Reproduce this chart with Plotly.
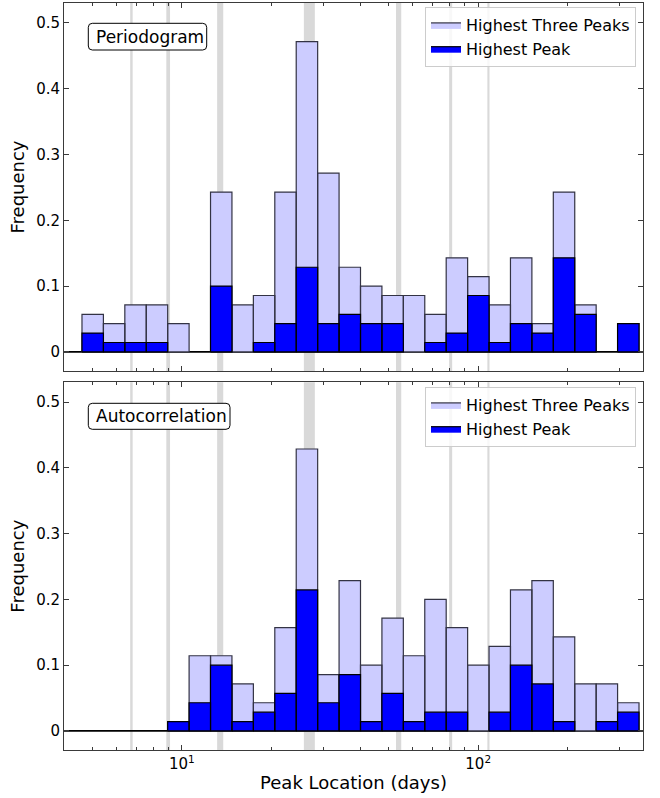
import numpy as np
import plotly.graph_objects as go

# ---------------- data ----------------
N_STARS = 70
BIN_LO, BIN_HI, N_BINS = 4.6, 349.0, 26
# counts per log bin (fraction = count / N_STARS)
period_three = [4, 3, 5, 5, 3, 0, 17, 5, 6, 17, 33, 19, 9, 7, 6, 6, 4, 10, 8, 5, 10, 3, 17, 5, 0, 3]
period_top   = [2, 1, 1, 1, 0, 0, 7, 0, 1, 3, 9, 3, 4, 3, 3, 0, 1, 2, 6, 1, 3, 2, 10, 4, 0, 3]
acf_three    = [0, 0, 0, 0, 1, 8, 8, 5, 3, 11, 30, 6, 16, 7, 12, 8, 14, 11, 7, 9, 15, 16, 10, 5, 5, 3]
acf_top      = [0, 0, 0, 0, 1, 3, 7, 1, 2, 4, 15, 3, 6, 1, 4, 1, 2, 2, 0, 2, 7, 5, 1, 0, 1, 2]
# shaded period bands (days): solar-rotation harmonics
band_lo = [6.69, 8.86, 13.15, 25.8, 52.8, 79.8, 107.4]
band_hi = [6.82, 9.12, 13.79, 28.1, 55.0, 81.7, 109.2]
panel_names = ["Periodogram", "Autocorrelation"]
legend_names = ["Highest Three Peaks", "Highest Peak"]
x_major = [10, 100]
x_major_text = ["10<sup>1</sup>", "10<sup>2</sup>"]
x_minor = [4, 5, 6, 7, 8, 9, 20, 30, 40, 50, 60, 70, 80, 90, 200, 300]
y_ticks = [0, 0.1, 0.2, 0.3, 0.4, 0.5]
y_text = ["0", "0.1", "0.2", "0.3", "0.4", "0.5"]

edges = np.logspace(np.log10(BIN_LO), np.log10(BIN_HI), N_BINS + 1)

# ---------------- layout geometry ----------------
W, H = 660, 798
ML, MR, MT, MB = 64, 17, 3, 48
PW, PH = W - ML - MR, H - MT - MB
def px_x(p):
    return (p - ML) / PW
def px_y(p):
    return (H - MB - p) / PH

top_dom = [px_y(371), 1.0]
bot_dom = [0.0, px_y(382.3)]

FONT = "DejaVu Sans"
AXC = "#3a3a3a"
LIGHT = "#ccccff"
BLUE = "#0000ff"

def poly(counts):
    xs, ys = [], []
    for i, c in enumerate(counts):
        if c <= 0:
            continue
        h = c / N_STARS
        l, r = edges[i], edges[i + 1]
        xs += [l, l, r, r, l, None]
        ys += [0, h, h, 0, 0, None]
    return xs, ys

fig = go.Figure()
series = [(period_three, period_top, "x", "y", "legend"),
          (acf_three, acf_top, "x2", "y2", "legend2")]
for three, top, xa, ya, lg in series:
    x1, y1 = poly(three)
    fig.add_trace(go.Scatter(x=x1, y=y1, xaxis=xa, yaxis=ya, mode="lines",
                             fill="toself", fillcolor=LIGHT,
                             line=dict(color="#333344", width=1.2),
                             name=legend_names[0], legend=lg, legendgroup=lg + "a",
                             hoverinfo="skip"))
    x2, y2 = poly(top)
    fig.add_trace(go.Scatter(x=x2, y=y2, xaxis=xa, yaxis=ya, mode="lines",
                             fill="toself", fillcolor=BLUE,
                             line=dict(color="#000000", width=1.2),
                             name=legend_names[1], legend=lg, legendgroup=lg + "b",
                             hoverinfo="skip"))

shapes = []
for xa, ya in [("x", "y"), ("x2", "y2")]:
    for lo, hi in zip(band_lo, band_hi):
        shapes.append(dict(type="rect", xref=xa, yref=ya + " domain", x0=lo, x1=hi,
                           y0=0, y1=1, fillcolor="#d9d9d9", line=dict(width=0),
                           layer="below"))
    shapes.append(dict(type="line", xref=xa + " domain", yref=ya, x0=0, x1=1, y0=0, y1=0,
                       line=dict(color="black", width=1.8), layer="below"))

# rounded label boxes
def rounded_box(x0p, y0p, x1p, y1p, r=4):
    X0, X1 = px_x(x0p), px_x(x1p)
    Y0, Y1 = px_y(y0p), px_y(y1p)  # Y0 top, Y1 bottom
    rx, ry = r / PW, r / PH
    path = (f"M{X0+rx},{Y0} L{X1-rx},{Y0} Q{X1},{Y0} {X1},{Y0-ry} "
            f"L{X1},{Y1+ry} Q{X1},{Y1} {X1-rx},{Y1} L{X0+rx},{Y1} "
            f"Q{X0},{Y1} {X0},{Y1+ry} L{X0},{Y0-ry} Q{X0},{Y0} {X0+rx},{Y0} Z")
    return dict(type="path", xref="paper", yref="paper", path=path,
                fillcolor="white", line=dict(color="black", width=1), layer="above")

shapes.append(rounded_box(88.3, 23.3, 206.7, 50.0))
shapes.append(rounded_box(88.3, 403.3, 230.0, 429.3))

annotations = [
    dict(text=panel_names[0], x=px_x(94), y=px_y(36.7), xref="paper", yref="paper",
         xanchor="left", yanchor="middle", showarrow=False,
         font=dict(family=FONT, size=17, color="black")),
    dict(text=panel_names[1], x=px_x(94), y=px_y(416.3), xref="paper", yref="paper",
         xanchor="left", yanchor="middle", showarrow=False,
         font=dict(family=FONT, size=17, color="black")),
]

xcommon = dict(type="log", range=[np.log10(4), np.log10(360)], showgrid=False,
               zeroline=False, showline=True, linecolor=AXC, linewidth=1,
               mirror="allticks", ticks="inside", ticklen=5, tickcolor=AXC,
               tickvals=x_major, ticktext=x_major_text, automargin=False,
               minor=dict(tickvals=x_minor, ticks="inside", ticklen=3, tickcolor=AXC),
               tickfont=dict(family=FONT, size=15, color="black"))
ycommon = dict(range=[-0.029, 0.53], showgrid=False, zeroline=False, showline=True,
               linecolor=AXC, linewidth=1, mirror="allticks", ticks="inside",
               ticklen=5, tickcolor=AXC, tickvals=y_ticks, ticktext=y_text,
               automargin=False,
               tickfont=dict(family=FONT, size=15, color="black"),
               title=dict(text="Frequency", font=dict(family=FONT, size=18, color="black"),
                          standoff=6))

legcommon = dict(bgcolor="rgba(255,255,255,0.8)", bordercolor="#cccccc", borderwidth=1,
                 font=dict(family=FONT, size=16, color="black"),
                 xanchor="right", yanchor="top", x=px_x(636), tracegroupgap=0,
                 traceorder="grouped")

fig.update_layout(
    width=W, height=H, margin=dict(l=ML, r=MR, t=MT, b=MB, autoexpand=False),
    paper_bgcolor="white", plot_bgcolor="white", showlegend=True,
    xaxis=dict(xcommon, domain=[0, 1], anchor="y", showticklabels=False, matches="x2"),
    yaxis=dict(ycommon, domain=top_dom, anchor="x"),
    xaxis2=dict(xcommon, domain=[0, 1], anchor="y2",
                title=dict(text="Peak Location (days)",
                           font=dict(family=FONT, size=18, color="black"), standoff=4)),
    yaxis2=dict(ycommon, domain=bot_dom, anchor="x2"),
    legend=dict(legcommon, y=px_y(7)),
    legend2=dict(legcommon, y=px_y(387)),
    shapes=shapes, annotations=annotations,
)

fig.write_html("out.html", config={"displayModeBar": False},
               post_script="document.body.style.margin='0';document.body.style.overflow='hidden';")
